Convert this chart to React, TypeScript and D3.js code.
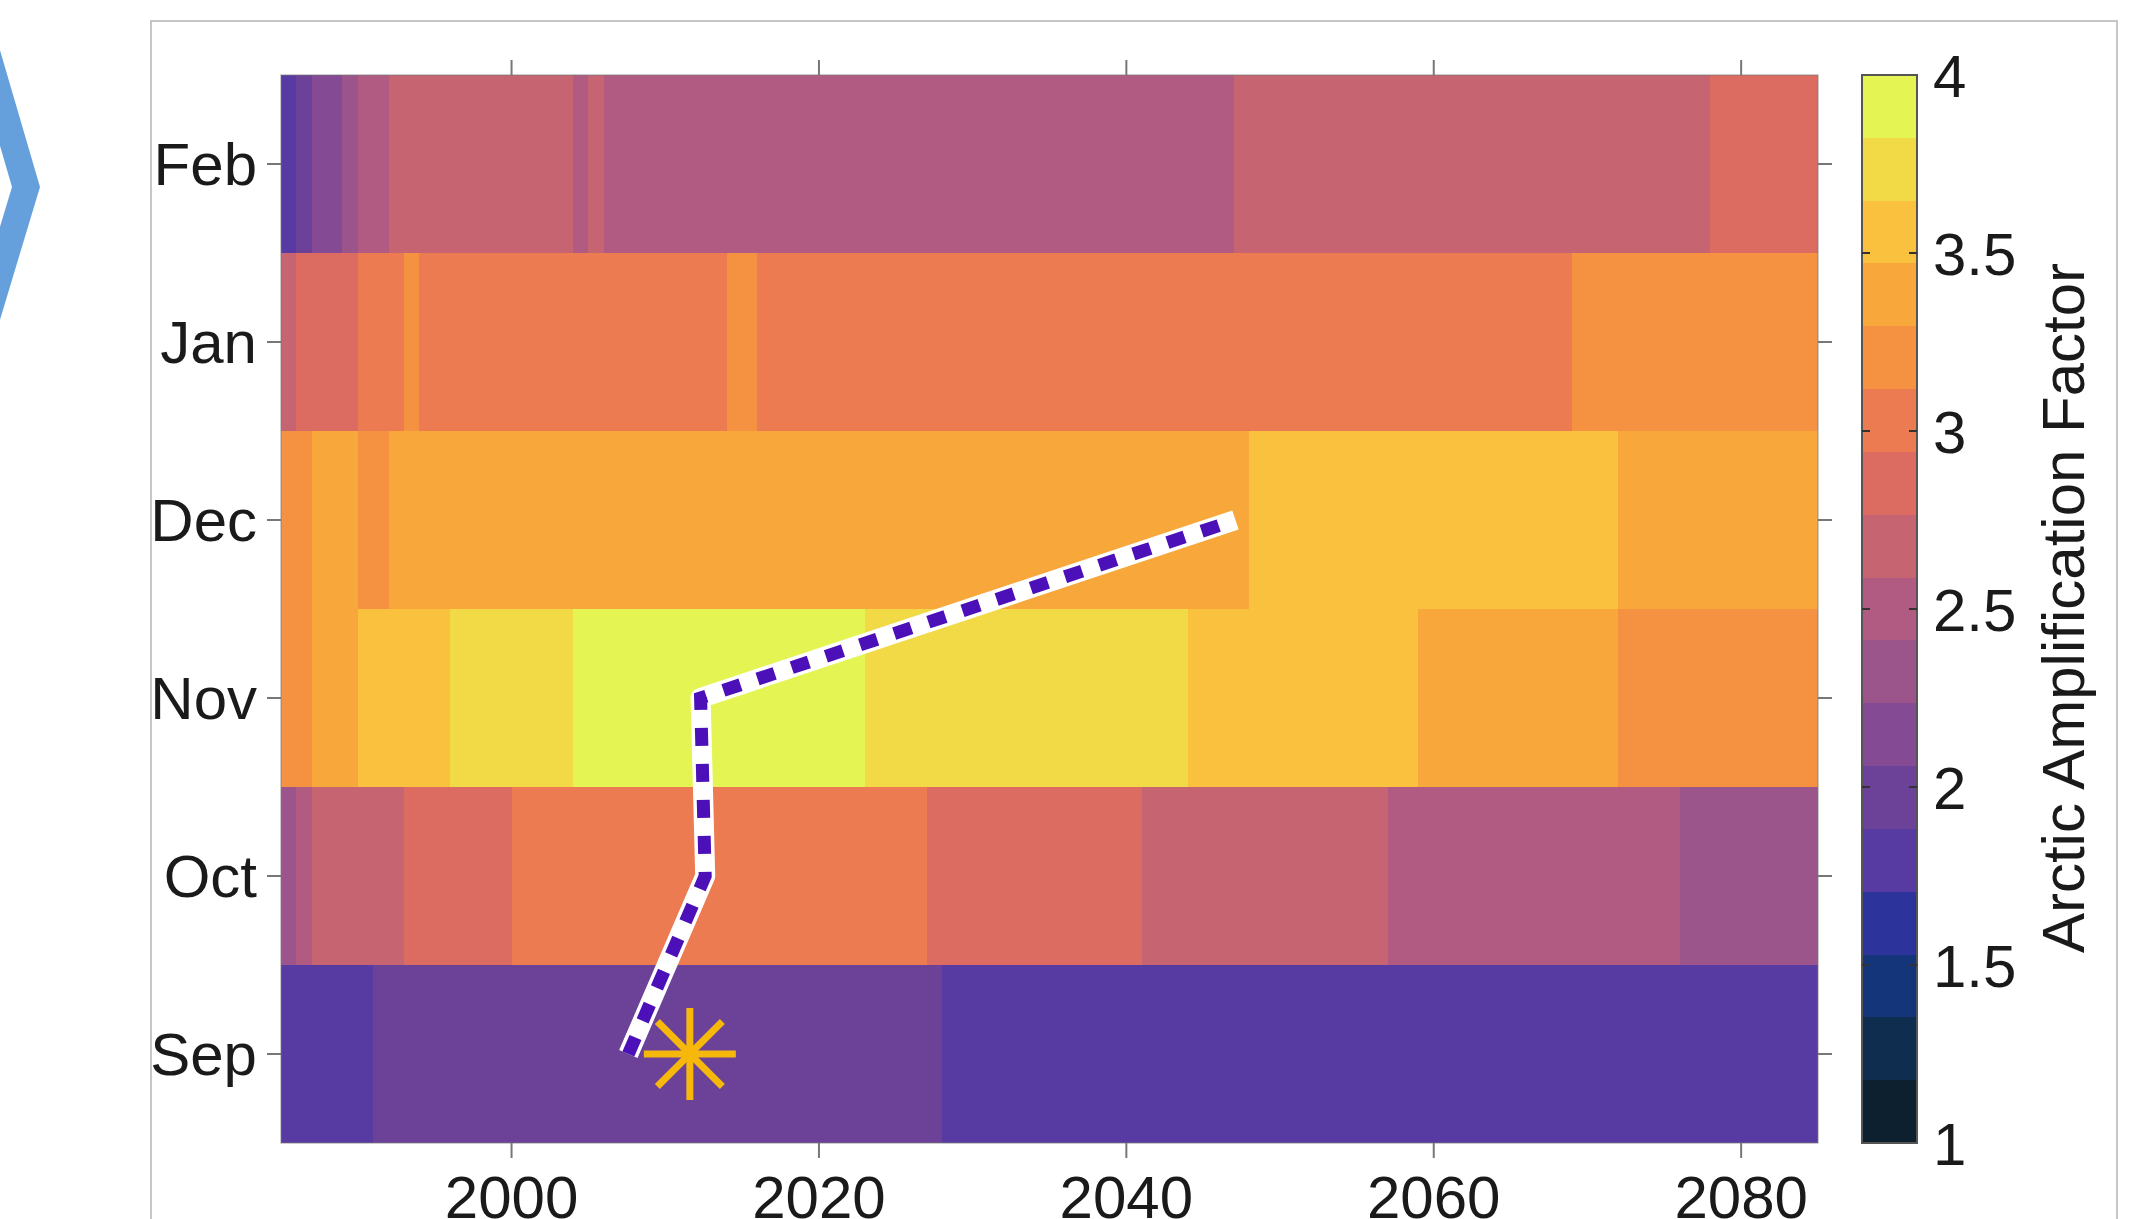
import React from 'react';
import * as d3 from 'd3';

// rows, top to bottom
const months = ['Feb', 'Jan', 'Dec', 'Nov', 'Oct', 'Sep'];
const yearTicks = [2000, 2020, 2040, 2060, 2080];
const colorTicks = [1, 1.5, 2, 2.5, 3, 3.5, 4];

// [first year, last year, arctic amplification factor]
const febSegments = [
  [1985, 1985, 1.8], [1986, 1986, 1.95], [1987, 1987, 2.15], [1988, 1988, 2.2],
  [1989, 1989, 2.3], [1990, 1991, 2.52], [1992, 2003, 2.7], [2004, 2004, 2.5],
  [2005, 2005, 2.7], [2006, 2046, 2.5], [2047, 2077, 2.7], [2078, 2084, 2.85],
];
const janSegments = [
  [1985, 1985, 2.7], [1986, 1989, 2.88], [1990, 1992, 3.02], [1993, 1993, 3.2],
  [1994, 2013, 3.05], [2014, 2015, 3.2], [2016, 2068, 3.05], [2069, 2084, 3.2],
];
const decSegments = [
  [1985, 1986, 3.25], [1987, 1989, 3.42], [1990, 1991, 3.2], [1992, 2047, 3.38],
  [2048, 2071, 3.58], [2072, 2084, 3.4],
];
const novSegments = [
  [1985, 1986, 3.22], [1987, 1987, 3.35], [1988, 1989, 3.42], [1990, 1995, 3.56],
  [1996, 2003, 3.72], [2004, 2022, 3.92], [2023, 2043, 3.76], [2044, 2058, 3.6],
  [2059, 2071, 3.4], [2072, 2084, 3.24],
];
const octSegments = [
  [1985, 1985, 2.35], [1986, 1986, 2.5], [1987, 1992, 2.72], [1993, 1999, 2.9],
  [2000, 2026, 3.05], [2027, 2040, 2.9], [2041, 2056, 2.7], [2057, 2075, 2.5],
  [2076, 2084, 2.35],
];
const sepSegments = [
  [1985, 1990, 1.8], [1991, 2027, 1.95], [2028, 2084, 1.8],
];

const rows = {
  Feb: febSegments, Jan: janSegments, Dec: decSegments,
  Nov: novSegments, Oct: octSegments, Sep: sepSegments,
};

// dashed path across the months
const pathMonths = ['Sep', 'Oct', 'Nov', 'Dec'];
const pathYears = [2007.6, 2012.6, 2012.3, 2047.1];

const starMonth = 'Sep';
const starYear = 2011.6;

// 17 level colormap, low to high
const colors = [
  '#0c2030', '#0f2d4e', '#15357a', '#2c339b', '#573aa2', '#6c4298',
  '#844a93', '#9c558b', '#b25b82', '#c76471', '#dc6c61', '#ed7b52',
  '#f59242', '#f8a83b', '#f9c13e', '#f1da46', '#e4f553',
];

const W = 2151;
const H = 1219;
const font = '"Liberation Sans", Arial, Helvetica, sans-serif';

export default function App() {
  const x = d3.scaleLinear().domain([1985, 2085]).range([281, 1818]);
  const y = d3.scaleBand().domain(months).range([75, 1143]);
  const color = d3.scaleQuantize<string>().domain([1, 4]).range(colors);
  const cy = d3.scaleLinear().domain([1, 4]).range([1143, 75]);
  const cbX = 1862;
  const cbW = 55;

  const line = d3
    .line<number>()
    .x((d) => x(d))
    .y((d, i) => y(pathMonths[i])! + y.bandwidth() / 2);
  const pathD = line(pathYears) || '';

  const sx = x(starYear);
  const sy = y(starMonth)! + y.bandwidth() / 2;
  const r = 46;

  return (
    <svg
      width={W}
      height={H}
      style={{ position: 'absolute', left: 0, top: 0, background: '#fff' }}
      fontFamily={font}
    >
      {/* chevron from the slide */}
      <polygon
        points="-20,-18 40,187 -20,386 -20,293 12,187 -20,77"
        fill="#65a0dc"
      />
      <rect x={151} y={21} width={1966} height={1240} fill="#fff" stroke="#c6c6c6" strokeWidth={2} />

      {/* heatmap */}
      <g shapeRendering="crispEdges">
        {months.map((m) =>
          rows[m].map((s, i) => (
            <rect
              key={m + i}
              x={x(s[0])}
              y={y(m)}
              width={x(s[1] + 1) - x(s[0])}
              height={y.bandwidth()}
              fill={color(s[2])}
            />
          ))
        )}
      </g>
      <rect x={281} y={75} width={1818 - 281} height={1143 - 75} fill="none" stroke="#7a7a7a" strokeOpacity={0.5} strokeWidth={1.5} />

      {/* x ticks, top and bottom */}
      {yearTicks.map((t) => (
        <g key={t}>
          <line x1={x(t)} x2={x(t)} y1={75} y2={60} stroke="#777" strokeWidth={2} />
          <line x1={x(t)} x2={x(t)} y1={1143} y2={1158} stroke="#777" strokeWidth={2} />
          <text x={x(t)} y={1218} textAnchor="middle" fontSize={60} fill="#1a1a1a">
            {t}
          </text>
        </g>
      ))}

      {/* y ticks, left and right */}
      {months.map((m) => {
        const cyM = y(m)! + y.bandwidth() / 2;
        return (
          <g key={m}>
            <line x1={281} x2={267} y1={cyM} y2={cyM} stroke="#777" strokeWidth={2} />
            <line x1={1818} x2={1832} y1={cyM} y2={cyM} stroke="#777" strokeWidth={2} />
            <text x={257} y={cyM} dy="0.35em" textAnchor="end" fontSize={60} fill="#1a1a1a">
              {m}
            </text>
          </g>
        );
      })}

      {/* dashed path */}
      <path d={pathD} fill="none" stroke="#fff" strokeWidth={20} strokeLinejoin="round" />
      <path d={pathD} fill="none" stroke="#4b10b8" strokeWidth={13} strokeDasharray="18 18" />

      {/* star marker */}
      <g stroke="#f7b80c" strokeWidth={7} strokeLinecap="butt">
        {[0, 45, 90, 135].map((a) => {
          const rad = (a * Math.PI) / 180;
          return (
            <line
              key={a}
              x1={sx - r * Math.cos(rad)}
              y1={sy - r * Math.sin(rad)}
              x2={sx + r * Math.cos(rad)}
              y2={sy + r * Math.sin(rad)}
            />
          );
        })}
      </g>

      {/* colorbar */}
      <g shapeRendering="crispEdges">
        {colors.map((c) => {
          const [v0, v1] = color.invertExtent(c);
          return (
            <rect key={c} x={cbX} y={cy(v1)} width={cbW} height={cy(v0) - cy(v1)} fill={c} />
          );
        })}
      </g>
      <rect x={cbX} y={75} width={cbW} height={1143 - 75} fill="none" stroke="#555" strokeWidth={2} />
      {colorTicks.map((t) => (
        <g key={t}>
          {t > 1 && t < 4 && (
            <>
              <line x1={cbX} x2={cbX + 8} y1={cy(t)} y2={cy(t)} stroke="#333" strokeWidth={2} />
              <line x1={cbX + cbW} x2={cbX + cbW - 8} y1={cy(t)} y2={cy(t)} stroke="#333" strokeWidth={2} />
            </>
          )}
          <text x={1933} y={cy(t)} dy="0.36em" fontSize={60} fill="#1a1a1a">
            {t}
          </text>
        </g>
      ))}
      <text
        transform="translate(2084,608) rotate(-90)"
        textAnchor="middle"
        fontSize={60}
        fill="#1a1a1a"
      >
        Arctic Amplification Factor
      </text>
    </svg>
  );
}
